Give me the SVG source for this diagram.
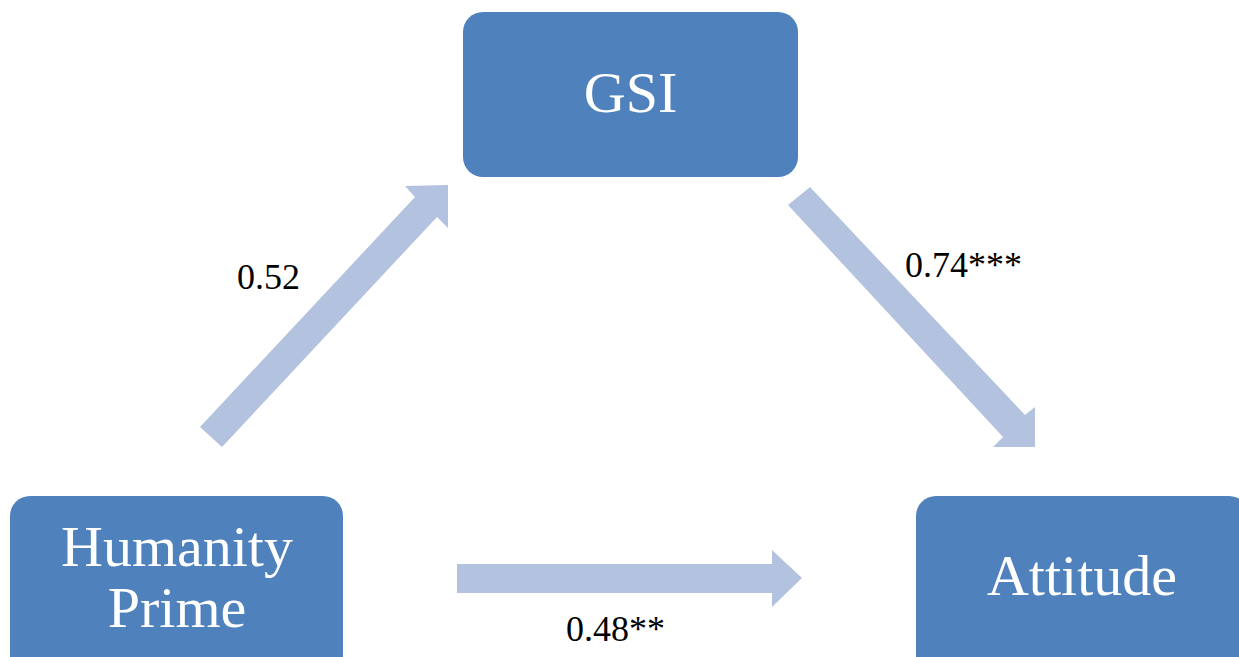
<svg xmlns="http://www.w3.org/2000/svg" width="1239" height="657" viewBox="0 0 1239 657">
<style>
.box{fill:#4F81BD;}
.arrow{fill:#B3C2DE;}
.nt{font-family:"Liberation Serif","Times New Roman",serif;font-size:58px;fill:#FFFFFF;text-anchor:middle;}
.lbl{font-family:"Liberation Serif","Times New Roman",serif;font-size:36px;fill:#000000;}
</style>
<rect width="1239" height="657" fill="#FFFFFF"/>
<g id="connectors">
<polygon class="arrow" points="200,427 415,197 405,186 448,185 448,228 437,217 222,447"/>
<polygon class="arrow" points="810,187 1025,415 1035,407 1035,447 993,447 1003,437 788,205"/>
<polygon class="arrow" points="457,564 772,564 772,550 802,578 772,607 772,593 457,593"/>
<text class="lbl" x="237" y="289">0.52</text>
<text class="lbl" x="905" y="277">0.74***</text>
<text class="lbl" x="566" y="641">0.48**</text>
</g>
<g id="node-gsi">
<rect class="box" x="463" y="12" width="335" height="165" rx="20" ry="20"/>
<text class="nt" x="630.5" y="112">GSI</text>
</g>
<g id="node-humanity">
<rect class="box" x="10" y="496" width="333" height="185" rx="20" ry="20"/>
<text class="nt" x="177" y="566">Humanity</text>
<text class="nt" x="177" y="627">Prime</text>
</g>
<g id="node-attitude">
<rect class="box" x="916" y="496" width="333" height="185" rx="20" ry="20"/>
<text class="nt" x="1082" y="595">Attitude</text>
</g>
</svg>
